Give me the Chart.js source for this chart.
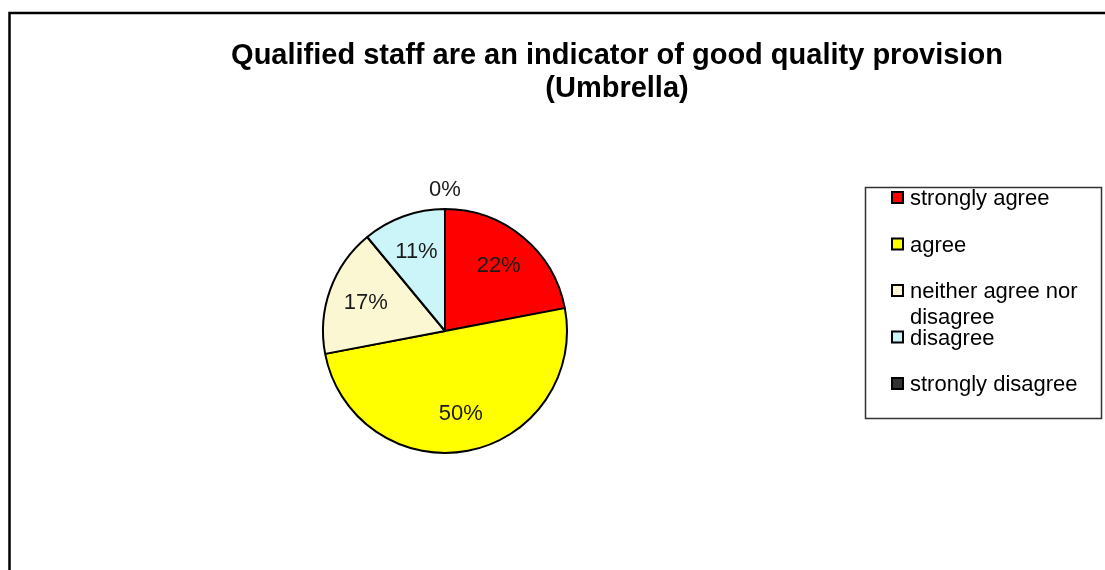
<!DOCTYPE html>
<html>
<head>
<meta charset="utf-8">
<style>
  html, body { margin: 0; padding: 0; background: #ffffff; }
  #wrap { width: 1105px; height: 570px; position: relative; }
</style>
<script src="https://cdn.jsdelivr.net/npm/chart.js@4/dist/chart.umd.min.js"></script>
</head>
<body>
<div id="wrap"><canvas id="pie" width="1105" height="570"></canvas></div>
<script>
// Survey answers (share of respondents, %)
const categories = ['strongly agree', 'agree', 'neither agree nor disagree', 'disagree', 'strongly disagree'];
const shares = [22, 50, 17, 11, 0];
const sliceColors = ['#FF0000', '#FFFF00', '#FBF7D3', '#CCF5FA', '#333333'];
const titleLines = ['Qualified staff are an indicator of good quality provision', '(Umbrella)'];

const FONT = '"Liberation Sans", Arial, sans-serif';

// Outer frame and title
const framePlugin = {
  id: 'frameAndTitle',
  beforeDraw(chart) {
    const ctx = chart.ctx;
    ctx.save();
    ctx.fillStyle = '#ffffff';
    ctx.fillRect(0, 0, chart.width, chart.height);
    ctx.strokeStyle = '#000000';
    ctx.lineWidth = 2.5;
    ctx.strokeRect(9.5, 13, chart.width + 20, chart.height + 20);
    ctx.fillStyle = '#000000';
    ctx.font = 'bold 29px ' + FONT;
    ctx.textAlign = 'center';
    ctx.textBaseline = 'alphabetic';
    ctx.fillText(titleLines[0], 617, 64);
    ctx.fillText(titleLines[1], 617, 97);
    ctx.restore();
  }
};

// Percentage labels on the slices (outside when the slice is empty)
const sliceLabels = {
  id: 'sliceLabels',
  afterDatasetsDraw(chart) {
    const ctx = chart.ctx;
    const meta = chart.getDatasetMeta(0);
    ctx.save();
    ctx.font = '22px ' + FONT;
    ctx.fillStyle = '#1a1a1a';
    ctx.textAlign = 'center';
    ctx.textBaseline = 'middle';
    meta.data.forEach((arc, i) => {
      const p = arc.getProps(['x', 'y', 'startAngle', 'endAngle', 'outerRadius'], true);
      const mid = (p.startAngle + p.endAngle) / 2;
      const r = shares[i] > 0 ? p.outerRadius * 0.69 : p.outerRadius + 19;
      ctx.fillText(shares[i] + '%', p.x + Math.cos(mid) * r, p.y + Math.sin(mid) * r);
    });
    ctx.restore();
  }
};

// Boxed legend on the right
const boxLegend = {
  id: 'boxLegend',
  afterDraw(chart) {
    const ctx = chart.ctx;
    const ds = chart.data.datasets[0];
    ctx.save();
    ctx.strokeStyle = '#333333';
    ctx.lineWidth = 1.5;
    ctx.strokeRect(865.5, 187.5, 236, 231);
    ctx.font = '22px ' + FONT;
    ctx.textAlign = 'left';
    ctx.textBaseline = 'alphabetic';
    const maxW = 185;
    chart.data.labels.forEach((label, i) => {
      const cy = 197.5 + i * 46.5;
      ctx.fillStyle = ds.backgroundColor[i];
      ctx.fillRect(892, cy - 5.5, 11, 11);
      ctx.strokeStyle = '#000000';
      ctx.lineWidth = 2;
      ctx.strokeRect(892, cy - 5.5, 11, 11);
      // word wrap
      const words = label.split(' ');
      const lines = [];
      let cur = '';
      words.forEach(w => {
        const test = cur ? cur + ' ' + w : w;
        if (ctx.measureText(test).width > maxW && cur) { lines.push(cur); cur = w; }
        else cur = test;
      });
      lines.push(cur);
      ctx.fillStyle = '#000000';
      lines.forEach((ln, k) => ctx.fillText(ln, 910, cy + 7.5 + k * 26));
    });
    ctx.restore();
  }
};

new Chart(document.getElementById('pie'), {
  type: 'pie',
  data: {
    labels: categories,
    datasets: [{
      data: shares,
      backgroundColor: sliceColors,
      borderColor: '#000000',
      borderWidth: 2
    }]
  },
  options: {
    responsive: false,
    animation: false,
    events: [],
    layout: { padding: { left: 322, right: 537, top: 208, bottom: 116 } },
    plugins: {
      legend: { display: false },
      title: { display: false },
      tooltip: { enabled: false }
    }
  },
  plugins: [framePlugin, sliceLabels, boxLegend]
});
</script>
</body>
</html>
